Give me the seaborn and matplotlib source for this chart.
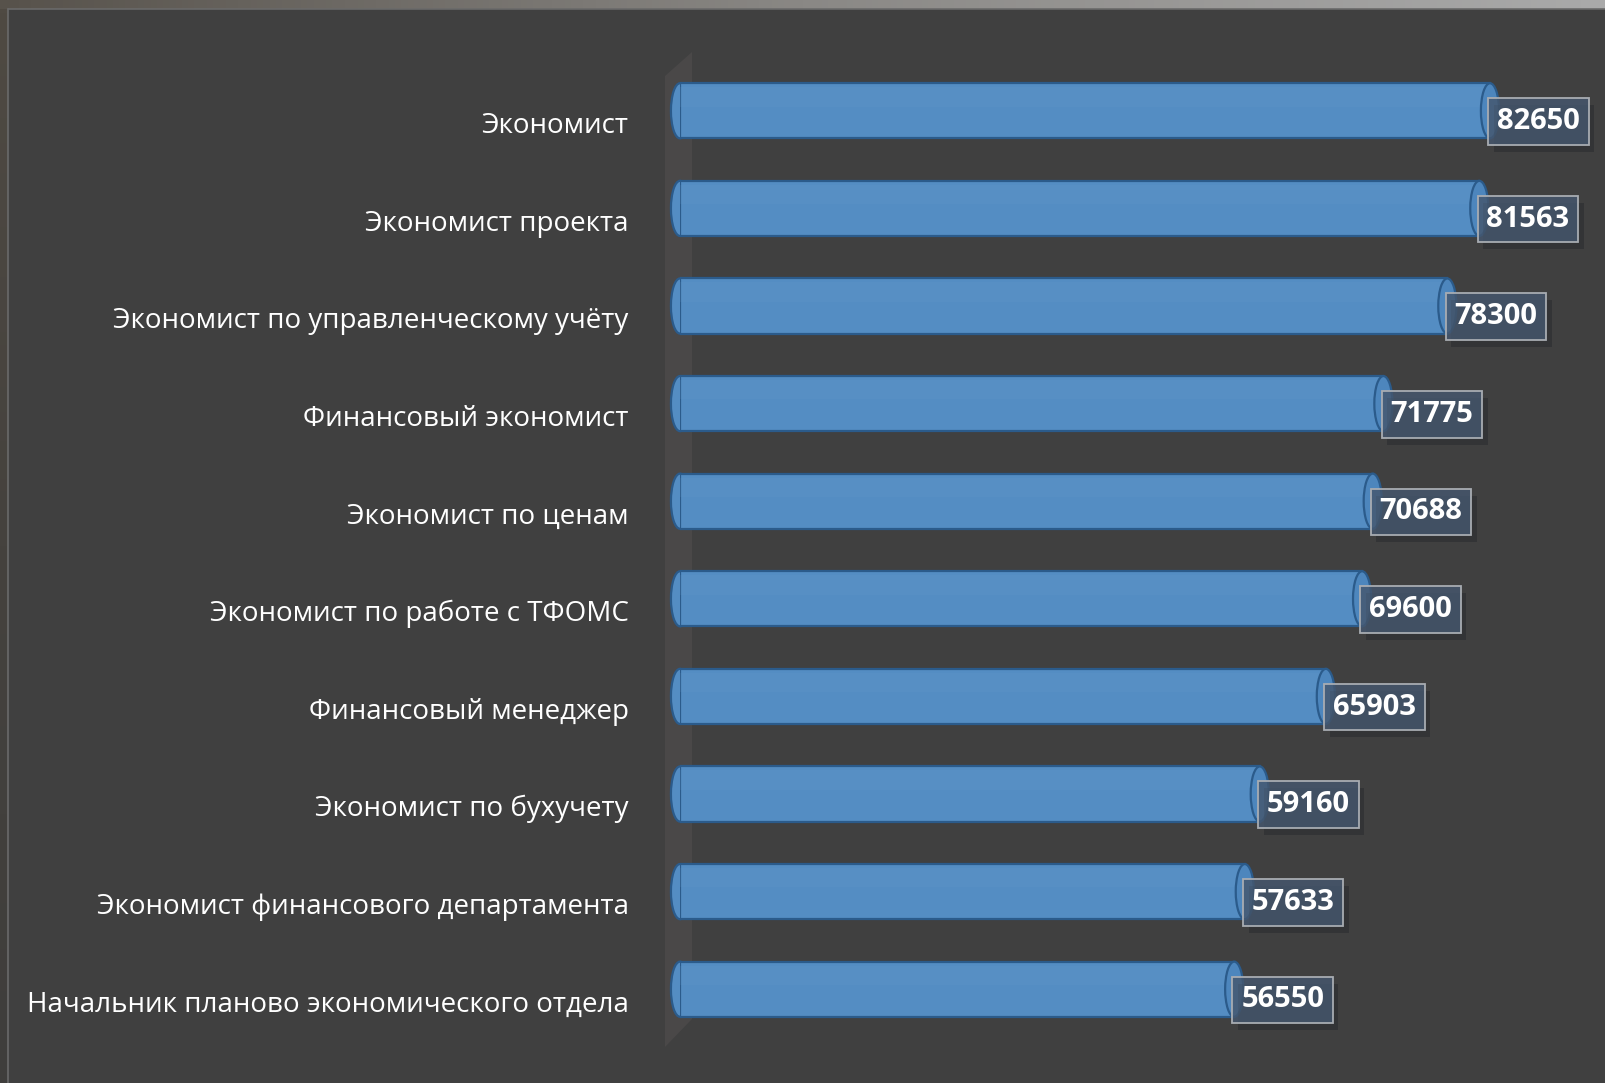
import numpy as np
import pandas as pd
import matplotlib
matplotlib.use("Agg")
import matplotlib.pyplot as plt
import matplotlib.patheffects as pe
from matplotlib.patches import Ellipse, Polygon, Rectangle
from matplotlib.colors import LinearSegmentedColormap
import seaborn as sns

positions = ['Экономист', 'Экономист проекта', 'Экономист по управленческому учёту',
             'Финансовый экономист', 'Экономист по ценам', 'Экономист по работе с ТФОМС',
             'Финансовый менеджер', 'Экономист по бухучету',
             'Экономист финансового департамента', 'Начальник планово экономического отдела']
salaries = [82650, 81563, 78300, 71775, 70688, 69600, 65903, 59160, 57633, 56550]

df = pd.DataFrame({'position': positions, 'salary': salaries})

sns.set_theme(style='dark')
plt.rcParams['font.family'] = ['Open Sans', 'DejaVu Sans']

W, H = 1606, 1083
bg = '#404040'
fig = plt.figure(figsize=(W / 100, H / 100), dpi=100, facecolor=bg)

# frame: gradient strip on top, dark strip on the left
top = fig.add_axes([0, 1 - 9 / H, 1, 9 / H])
top.imshow(np.linspace(0, 1, 256)[None, :], aspect='auto',
           cmap=LinearSegmentedColormap.from_list('t', ['#57524b', '#8a8885', '#aaaaaa']))
top.set_axis_off()
left = fig.add_axes([0, 0, 8 / W, 1 - 9 / H])
left.imshow(np.linspace(0, 1, 256)[:, None], aspect='auto',
            cmap=LinearSegmentedColormap.from_list('l', ['#4f4a43', '#45423e', '#3f3e3c']))
left.set_axis_off()
fig.add_artist(plt.Line2D([8 / W, 8 / W], [0, 1 - 9 / H], color='#6a6a6a', lw=1.2))
fig.add_artist(plt.Line2D([8 / W, 1], [1 - 9 / H, 1 - 9 / H], color='#6a6a6a', lw=1.2))

# back wall of the 3d chart
wall = Polygon([(665 / W, 1 - 76 / H), (692 / W, 1 - 52 / H),
                (692 / W, 1 - 1019 / H), (665 / W, 1 - 1047 / H)],
               closed=True, facecolor='#4a4848', edgecolor='none',
               transform=fig.transFigure, zorder=-1)
fig.add_artist(wall)

ax = fig.add_axes([680 / W, 1 - 1038 / H, 901.6 / W, 976 / H])
ax.set_facecolor('none')

bar_h = 0.565
blue = '#548dc3'
edge = '#2b5b8b'
sns.barplot(data=df, x='salary', y='position', orient='h', color=blue,
            saturation=1, width=bar_h, edgecolor=edge, linewidth=1.6,
            zorder=2, ax=ax)

cap_w = 1850
for i, v in enumerate(salaries):
    ax.add_patch(Ellipse((0, i), cap_w, bar_h, facecolor=blue, edgecolor=edge,
                         lw=1.6, zorder=1.5, clip_on=False))
    ax.add_patch(Rectangle((0, i - bar_h / 2 + 0.04), v, 0.2, facecolor='#6fa0d0',
                           alpha=0.12, edgecolor='none', zorder=2.1))
    ax.add_patch(Ellipse((v, i), cap_w, bar_h, facecolor='#4d86bd', edgecolor=edge,
                         lw=1.6, zorder=3, clip_on=False))
    t = ax.annotate(str(v), xy=(v, i + 0.11), xytext=(5, 0), textcoords='offset points',
                    ha='left', va='center', color='white', fontsize=21, fontweight='bold',
                    zorder=4, annotation_clip=False,
                    bbox=dict(boxstyle='square,pad=0.3', facecolor=(0.27, 0.34, 0.43, 0.82),
                              edgecolor='#a8acb2', lw=1.3))
    t.get_bbox_patch().set_path_effects([pe.SimplePatchShadow(offset=(4, -5), alpha=0.3),
                                         pe.Normal()])

ax.set_xlim(0, 92000)
ax.set_ylim(9.5, -0.5)
ax.set_yticks(np.arange(len(positions)) + 0.12, positions)
ax.tick_params(axis='y', length=0, pad=37, labelsize=20, labelcolor='white')
ax.set_xticks([])
ax.set_xlabel('')
ax.set_ylabel('')
ax.grid(False)
for s in ax.spines.values():
    s.set_visible(False)

fig.savefig('out.png', dpi=100, facecolor=bg)
